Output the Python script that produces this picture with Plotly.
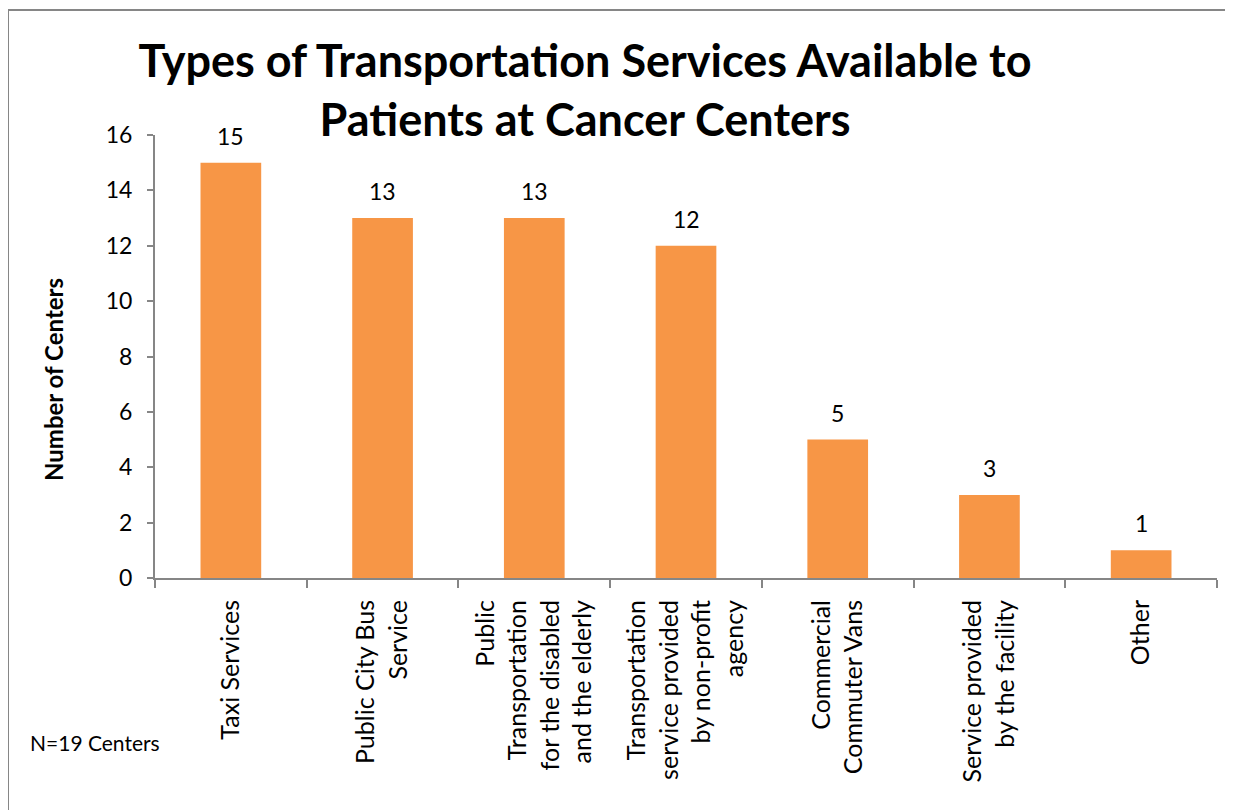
import plotly.graph_objects as go

categories = [
    "Taxi Services",
    "Public City Bus<br>Service",
    "Public<br>Transportation<br>for the disabled<br>and the elderly",
    "Transportation<br>service provided<br>by non-profit<br>agency",
    "Commercial<br>Commuter Vans",
    "Service provided<br>by the facility",
    "Other",
]
values = [15, 13, 13, 12, 5, 3, 1]
y_ticks = [0, 2, 4, 6, 8, 10, 12, 14, 16]

FONT = "Lato"
GREY = "#868686"
W, H = 1233, 810
OFF = 8  # page body margin
L, R, T, B = 155 - OFF, 1217 - OFF, 135 - OFF, 578 - OFF


def px(xs):
    return (xs - OFF - L) / (R - L)


def py(ys):
    return (B - (ys - OFF)) / (B - T)


fig = go.Figure()
fig.add_trace(go.Bar(
    x=categories, y=values, width=0.4,
    marker=dict(color="#F79646", line=dict(width=0)),
    hoverinfo="x+y", showlegend=False,
))

for c, v in zip(categories, values):
    fig.add_annotation(x=c, y=v, text=str(v), showarrow=False, yanchor="bottom",
                       yshift=11, font=dict(family=FONT, size=23, color="#000"))

fig.add_annotation(xref="paper", yref="paper",
                   x=px(28), y=py(742),
                   xanchor="left", yanchor="middle", showarrow=False,
                   text="N=19 Centers", font=dict(family=FONT, size=21, color="#000"))

# y-axis title
fig.add_annotation(xref="paper", yref="paper",
                   x=px(53), y=py(380), textangle=-90,
                   xanchor="center", yanchor="middle", showarrow=False,
                   text="<b>Number of Centers</b>",
                   font=dict(family=FONT, size=24, color="#000"))

# outer chart border
fig.add_shape(type="rect", xref="paper", yref="paper",
              x0=px(8), x1=px(1250),
              y0=py(830), y1=py(10),
              line=dict(color=GREY, width=2), fillcolor="rgba(0,0,0,0)", layer="below")

fig.update_layout(
    width=W, height=H,
    margin=dict(l=L, r=W - R, t=T, b=H - B, autoexpand=False),
    paper_bgcolor="white", plot_bgcolor="white",
    title=dict(text="Types of Transportation Services Available to<br>Patients at Cancer Centers",
               x=577 / W, xanchor="center", xref="container",
               y=1 - 69 / H, yanchor="top", yref="container",
               font=dict(family=FONT, size=45, color="#000", weight="bold")),
    bargap=0.6,
    font=dict(family=FONT, color="#000"),
)
fig.update_xaxes(
    type="category", showline=True, linecolor=GREY, linewidth=2,
    ticks="outside", tickson="boundaries", ticklen=8, tickcolor=GREY, tickwidth=2,
    tickangle=-90, tickfont=dict(family=FONT, size=25, color="#000"),
    ticklabelstandoff=10,
    showgrid=False, zeroline=False,
)
fig.update_yaxes(
    range=[0, 16], tickvals=y_ticks, showline=True, linecolor=GREY, linewidth=2,
    ticks="outside", ticklen=6, tickcolor=GREY, tickwidth=2,
    tickfont=dict(family=FONT, size=23, color="#000"),
    ticklabelstandoff=10,
    showgrid=False, zeroline=False,
)

fig.write_html("out.html")
